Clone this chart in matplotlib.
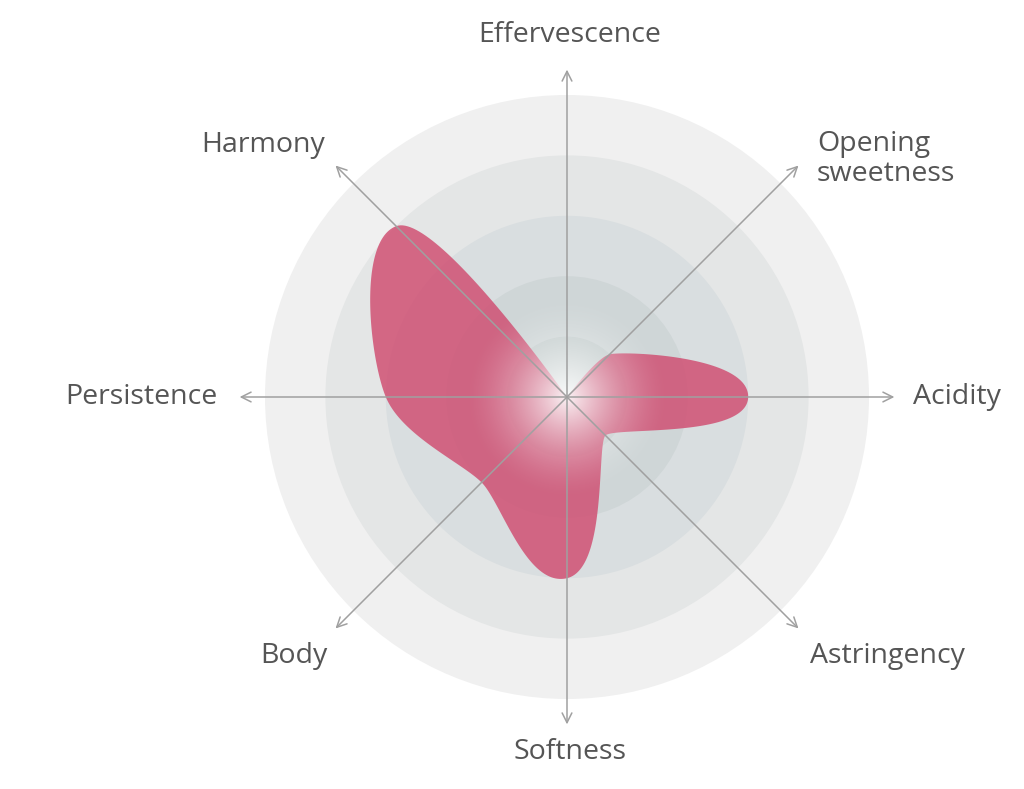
import numpy as np
import matplotlib
matplotlib.use("Agg")
import matplotlib.pyplot as plt
from matplotlib.patches import Circle, Polygon

# data
categories = ["Effervescence", "Opening\nsweetness", "Acidity", "Astringency",
              "Softness", "Body", "Persistence", "Harmony"]
values = [0, 1, 3, 0.9, 3, 2, 3, 4]
levels = [5, 4, 3, 2, 1]
ring_colors = ["#f0f0f0", "#e4e6e6", "#d9dee0", "#cfd6d7", "#c5cece"]

# label placement (units from centre) and alignment
label_pos = [(0.05, 6.0, "center"), (4.14, 3.94, "left"), (5.73, 0.0, "left"),
             (4.02, -4.29, "left"), (0.05, -5.88, "center"), (-3.96, -4.29, "right"),
             (-5.78, 0.0, "right"), (-4.01, 4.17, "right")]

px = 60.4  # pixels per unit
fig = plt.figure(figsize=(10.24, 7.89), dpi=100)
ax = fig.add_axes([0, 0, 1, 1])
ax.set_xlim(-567 / px, 457 / px)
ax.set_ylim(-392 / px, 397 / px)
ax.set_aspect("equal")
ax.axis("off")

# background rings
for lev, col in zip(levels, ring_colors):
    ax.add_patch(Circle((0, 0), lev, color=col, lw=0, zorder=1))

# point of each category (clockwise from top)
n = len(categories)
angles = np.pi / 2 - np.arange(n) * 2 * np.pi / n
rad = np.array(values, dtype=float)
pts = np.column_stack([rad * np.cos(angles), rad * np.sin(angles)])


def unit(v):
    l = np.hypot(*v)
    return v / l if l > 1e-9 else v * 0


# smooth closed curve: tangent perpendicular to the bisector of the
# neighbours, handle length grows with the value at the point
def smooth_closed(p, r, k=0.23, hmax=0.7, steps=60):
    m = len(p)
    cl, cr = [], []
    for i in range(m):
        p0, p1, p2 = p[i - 1], p[i], p[(i + 1) % m]
        u0, u2 = unit(p0 - p1), unit(p2 - p1)
        b = u0 + u2
        if np.hypot(*b) < 1e-9:
            d = u2
        else:
            d = unit(np.array([-b[1], b[0]]))
            if np.dot(d, u2) < 0:
                d = -d
        h = min(k * r[i], hmax)
        cl.append(p1 - d * h)
        cr.append(p1 + d * h)
    t = np.linspace(0, 1, steps, endpoint=False)[:, None]
    out = []
    for i in range(m):
        j = (i + 1) % m
        a, c1, c2, e = p[i], cr[i], cl[j], p[j]
        out.append((1 - t) ** 3 * a + 3 * (1 - t) ** 2 * t * c1 + 3 * (1 - t) * t ** 2 * c2 + t ** 3 * e)
    return np.vstack(out)


curve = smooth_closed(pts, rad)
ax.add_patch(Polygon(curve, closed=True, facecolor="#d04b6f", alpha=0.82, lw=0, zorder=2))

# white glow in the middle
g = np.linspace(-2, 2, 400)
gx, gy = np.meshgrid(g, g)
r = np.sqrt(gx ** 2 + gy ** 2)
alpha = np.clip(1 - r / 1.7, 0, 1) ** 1.6 * 0.92
glow = np.zeros((400, 400, 4))
glow[..., :3] = 1.0
glow[..., 3] = alpha
ax.imshow(glow, extent=(-2, 2, -2, 2), origin="lower", zorder=3, interpolation="bilinear")

# axes with open arrow heads
for a in angles:
    ax.annotate("", xy=(5.42 * np.cos(a), 5.42 * np.sin(a)), xytext=(0, 0),
                arrowprops=dict(arrowstyle="->,head_length=0.7,head_width=0.35",
                                color="#a0a0a0", lw=1.1, shrinkA=0, shrinkB=0),
                zorder=4)

for name, (x, y, ha) in zip(categories, label_pos):
    ax.text(x, y, name, ha=ha, va="center", fontsize=20.5, color="#555555",
            family="Open Sans", linespacing=1.05, zorder=5)

fig.savefig("out.png", dpi=100, facecolor="white")
